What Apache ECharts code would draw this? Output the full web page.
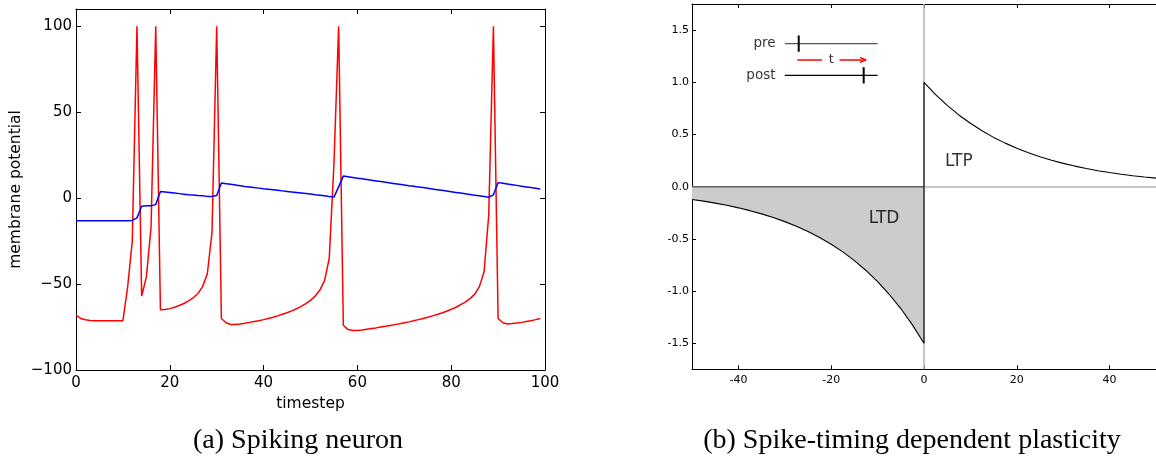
<!DOCTYPE html>
<html><head><meta charset="utf-8">
<script src="https://cdn.jsdelivr.net/npm/echarts@6.0.0/dist/echarts.min.js"></script>
<style>html,body{margin:0;padding:0;background:#fff}#c{width:1156px;height:458px}</style>
</head><body><div id="c"></div>
<script>
// ---------- (a) Spiking neuron ----------
const timesteps = Array.from({length: 100}, (_, i) => i);
const membraneV = [
  -68, -70, -70.8, -71.2, -71.3, -71.3, -71.3, -71.3, -71.3, -71.3,
  -71.3, -52, -25, 100, -57, -46, -17, 100, -65, -64.8,
  -64.3, -63.5, -62.5, -61.3, -59.8, -58, -55.5, -51.5, -44, -20,
  100, -70, -72.5, -73.5, -73.5, -73.2, -72.8, -72.3, -71.8, -71.3,
  -70.7, -70, -69.3, -68.5, -67.6, -66.7, -65.6, -64.4, -63, -61.4,
  -59.5, -57, -53.5, -48, -35, 20, 100, -74, -76.5, -77,
  -77, -76.7, -76.3, -75.9, -75.5, -75, -74.6, -74.1, -73.6, -73.1,
  -72.5, -72, -71.4, -70.7, -70, -69.3, -68.5, -67.7, -66.8, -65.8,
  -64.7, -63.5, -62, -60.5, -58.5, -56, -51.5, -43, -10, 100,
  -70, -72.5, -73.2, -73, -72.7, -72.3, -71.8, -71.3, -70.7, -70
];
const recoveryU = [
  -13.2, -13.2, -13.2, -13.2, -13.2, -13.2, -13.2, -13.2, -13.2, -13.2,
  -13.2, -13.2, -13, -11.5, -4.7, -4.5, -4.4, -3.8, 3.8, 3.5,
  3.2, 2.9, 2.6, 2.3, 2.0, 1.8, 1.5, 1.3, 1.0, 0.9,
  1.5, 8.8, 8.4, 8.0, 7.6, 7.2, 6.8, 6.5, 6.1, 5.8,
  5.4, 5.1, 4.8, 4.5, 4.2, 3.9, 3.6, 3.3, 3.0, 2.7,
  2.4, 2.0, 1.7, 1.3, 0.9, 0.6, 6.5, 12.8, 12.4, 12.0,
  11.6, 11.2, 10.8, 10.4, 10.0, 9.6, 9.2, 8.8, 8.4, 8.0,
  7.6, 7.2, 6.9, 6.5, 6.1, 5.7, 5.3, 4.9, 4.5, 4.1,
  3.7, 3.3, 2.9, 2.5, 2.1, 1.7, 1.3, 0.9, 0.5, 1.9,
  9.0, 8.6, 8.2, 7.8, 7.4, 6.9, 6.5, 6.1, 5.7, 5.3
];
const vTicks = [-100, -50, 0, 50, 100];

// ---------- (b) STDP ----------
const dtLTD = [-50, -47.5, -45, -42.5, -40, -37.5, -35, -32.5, -30, -27.5, -25, -22.5, -20, -17.5, -15, -12.5, -10, -7.5, -5, -2.5, 0];
const dwLTD = [-0.123, -0.139, -0.158, -0.179, -0.203, -0.230, -0.261, -0.295, -0.335, -0.379, -0.430, -0.487, -0.552, -0.625, -0.709, -0.803, -0.910, -1.031, -1.168, -1.324, -1.5];
const dtLTP = [0, 2.5, 5, 7.5, 10, 12.5, 15, 17.5, 20, 22.5, 25, 27.5, 30, 32.5, 35, 37.5, 40, 42.5, 45, 47.5, 50];
const dwLTP = [1.0, 0.882, 0.779, 0.687, 0.607, 0.535, 0.472, 0.417, 0.368, 0.325, 0.287, 0.253, 0.223, 0.197, 0.174, 0.153, 0.135, 0.119, 0.105, 0.093, 0.082];
const dtTicks = [-40, -20, 0, 20, 40];
const dwTicks = [-1.5, -1.0, -0.5, 0, 0.5, 1.0, 1.5];

// inset sketch (spike trains, in plot units)
const inset = {
  trainFrom: -30, trainTo: -10,
  preY: 1.37, postY: 1.067, arrowY: 1.214,
  preSpike: -27, postSpike: -13, tickHalf: 0.078,
  arrowA: [-27.3, -22.0], arrowB: [-18.2, -12.5], labelT: -20.0, labelX: -32
};

const FONT = 'DejaVu Sans';
const chart = echarts.init(document.getElementById('c'), null, {renderer: 'canvas'});

const minusFmt = v => (v < 0 ? '\u2212' + Math.abs(v) : String(v));
const blackAxis = {onZero: false, lineStyle: {color: '#000', width: 1}};

function seg(pts, color, width, xi, yi, z) {
  return {type: 'line', xAxisIndex: xi, yAxisIndex: yi, data: pts, symbol: 'none', silent: true,
    lineStyle: {color: color, width: width}, z: z || 8, animation: false};
}
function txt(x, y, text, size, pos, xi, yi) {
  return {type: 'scatter', xAxisIndex: xi, yAxisIndex: yi, data: [[x, y]], symbolSize: 0, silent: true,
    label: {show: true, formatter: text, position: pos, distance: 0, color: '#000', fontSize: size, fontFamily: FONT},
    z: 9, animation: false};
}

const series = [
  {type: 'line', xAxisIndex: 0, yAxisIndex: 0, data: timesteps.map((t, i) => [t, membraneV[i]]),
   symbol: 'none', lineStyle: {color: '#ff0000', width: 1.5}, z: 3},
  {type: 'line', xAxisIndex: 0, yAxisIndex: 0, data: timesteps.map((t, i) => [t, recoveryU[i]]),
   symbol: 'none', lineStyle: {color: '#0000ff', width: 1.5}, z: 4},
  // LTD shaded area
  {type: 'line', xAxisIndex: 2, yAxisIndex: 2, data: dtLTD.map((x, i) => [x, dwLTD[i]]),
   symbol: 'none', lineStyle: {width: 0, opacity: 0}, areaStyle: {color: '#cccccc', opacity: 1}, z: 1,
   markLine: {silent: true, symbol: 'none', label: {show: false}, animation: false, z: 2,
     lineStyle: {color: '#b4b4b4', width: 1.5, type: 'solid'},
     data: [{xAxis: 0}, {yAxis: 0}]}},
  seg([[dtLTD[0], 0], [0, 0]], '#666666', 1.5, 2, 2, 4),
  // STDP curve
  {type: 'line', xAxisIndex: 2, yAxisIndex: 2,
   data: dtLTD.map((x, i) => [x, dwLTD[i]]).concat(dtLTP.map((x, i) => [x, dwLTP[i]])),
   symbol: 'none', lineStyle: {color: '#000', width: 1.1}, z: 7},
  txt(7.5, 0.24, 'LTP', 17, 'inside', 2, 2),
  txt(-8.6, -0.31, 'LTD', 17, 'inside', 2, 2),
  // inset
  seg([[inset.trainFrom, inset.preY], [inset.trainTo, inset.preY]], '#555', 1.2, 2, 2),
  seg([[inset.preSpike, inset.preY - inset.tickHalf], [inset.preSpike, inset.preY + inset.tickHalf]], '#000', 2, 2, 2),
  seg([[inset.trainFrom, inset.postY], [inset.trainTo, inset.postY]], '#000', 1.2, 2, 2),
  seg([[inset.postSpike, inset.postY - inset.tickHalf], [inset.postSpike, inset.postY + inset.tickHalf]], '#000', 2, 2, 2),
  seg([[inset.arrowA[0], inset.arrowY], [inset.arrowA[1], inset.arrowY]], '#ff0000', 1.5, 2, 2),
  seg([[inset.arrowB[0], inset.arrowY], [inset.arrowB[1], inset.arrowY]], '#ff0000', 1.5, 2, 2),
  seg([[inset.arrowB[1] - 1.3, inset.arrowY + 0.024], [inset.arrowB[1], inset.arrowY], [inset.arrowB[1] - 1.3, inset.arrowY - 0.024]], '#ff0000', 1.3, 2, 2),
  txt(inset.labelT, inset.arrowY, 't', 13, 'inside', 2, 2),
  txt(inset.labelX, inset.preY, 'pre', 13.5, 'left', 2, 2),
  txt(inset.labelX, inset.postY, 'post', 13.5, 'left', 2, 2)
];

chart.setOption({
  animation: false,
  grid: [
    {left: 76, top: 9, width: 469, height: 361},
    {left: 692, top: 4, width: 467.5, height: 365.3}
  ],
  xAxis: [
    {gridIndex: 0, type: 'value', min: 0, max: 100, interval: 20, position: 'bottom',
     axisLine: blackAxis, axisTick: {inside: true, length: 5, lineStyle: {color: '#000'}},
     axisLabel: {color: '#000', fontSize: 15, fontFamily: FONT, margin: 6},
     splitLine: {show: false},
     name: 'timestep', nameLocation: 'middle', nameGap: 22,
     nameTextStyle: {color: '#000', fontSize: 15.5, fontFamily: FONT}},
    {gridIndex: 0, type: 'value', min: 0, max: 100, interval: 20, position: 'top',
     axisLine: blackAxis, axisTick: {inside: true, length: 5, lineStyle: {color: '#000'}},
     axisLabel: {show: false}, splitLine: {show: false}},
    {gridIndex: 1, type: 'value', min: -50, max: 50, position: 'bottom',
     axisLine: blackAxis, axisTick: {inside: true, length: 4, customValues: dtTicks, lineStyle: {color: '#000'}},
     axisLabel: {color: '#000', fontSize: 11, fontFamily: FONT, margin: 5, customValues: dtTicks},
     splitLine: {show: false}},
    {gridIndex: 1, type: 'value', min: -50, max: 50, position: 'top',
     axisLine: blackAxis, axisTick: {inside: true, length: 4, customValues: dtTicks, lineStyle: {color: '#000'}},
     axisLabel: {show: false}, splitLine: {show: false}}
  ],
  yAxis: [
    {gridIndex: 0, type: 'value', min: -100, max: 110, position: 'left',
     axisLine: blackAxis, axisTick: {inside: true, length: 5, customValues: vTicks, lineStyle: {color: '#000'}},
     axisLabel: {color: '#000', fontSize: 15, fontFamily: FONT, margin: 4, customValues: vTicks, formatter: minusFmt},
     splitLine: {show: false},
     name: 'membrane potential', nameLocation: 'middle', nameGap: 52, nameRotate: 90,
     nameTextStyle: {color: '#000', fontSize: 15.5, fontFamily: FONT}},
    {gridIndex: 0, type: 'value', min: -100, max: 110, position: 'right',
     axisLine: blackAxis, axisTick: {inside: true, length: 5, customValues: vTicks, lineStyle: {color: '#000'}},
     axisLabel: {show: false}, splitLine: {show: false}},
    {gridIndex: 1, type: 'value', min: -1.75, max: 1.75, position: 'left',
     axisLine: blackAxis, axisTick: {inside: true, length: 4, customValues: dwTicks, lineStyle: {color: '#000'}},
     axisLabel: {color: '#000', fontSize: 11, fontFamily: FONT, margin: 3, customValues: dwTicks,
       formatter: v => v.toFixed(1)},
     splitLine: {show: false}}
  ],
  series: series,
  graphic: [
    {type: 'text', x: 298, y: 441, silent: true,
     style: {text: '(a) Spiking neuron', fill: '#000', font: '28px "Liberation Serif"', align: 'center', verticalAlign: 'middle'}},
    {type: 'text', x: 912, y: 441, silent: true,
     style: {text: '(b) Spike-timing dependent plasticity', fill: '#000', font: '28px "Liberation Serif"', align: 'center', verticalAlign: 'middle'}}
  ]
});
</script></body></html>
